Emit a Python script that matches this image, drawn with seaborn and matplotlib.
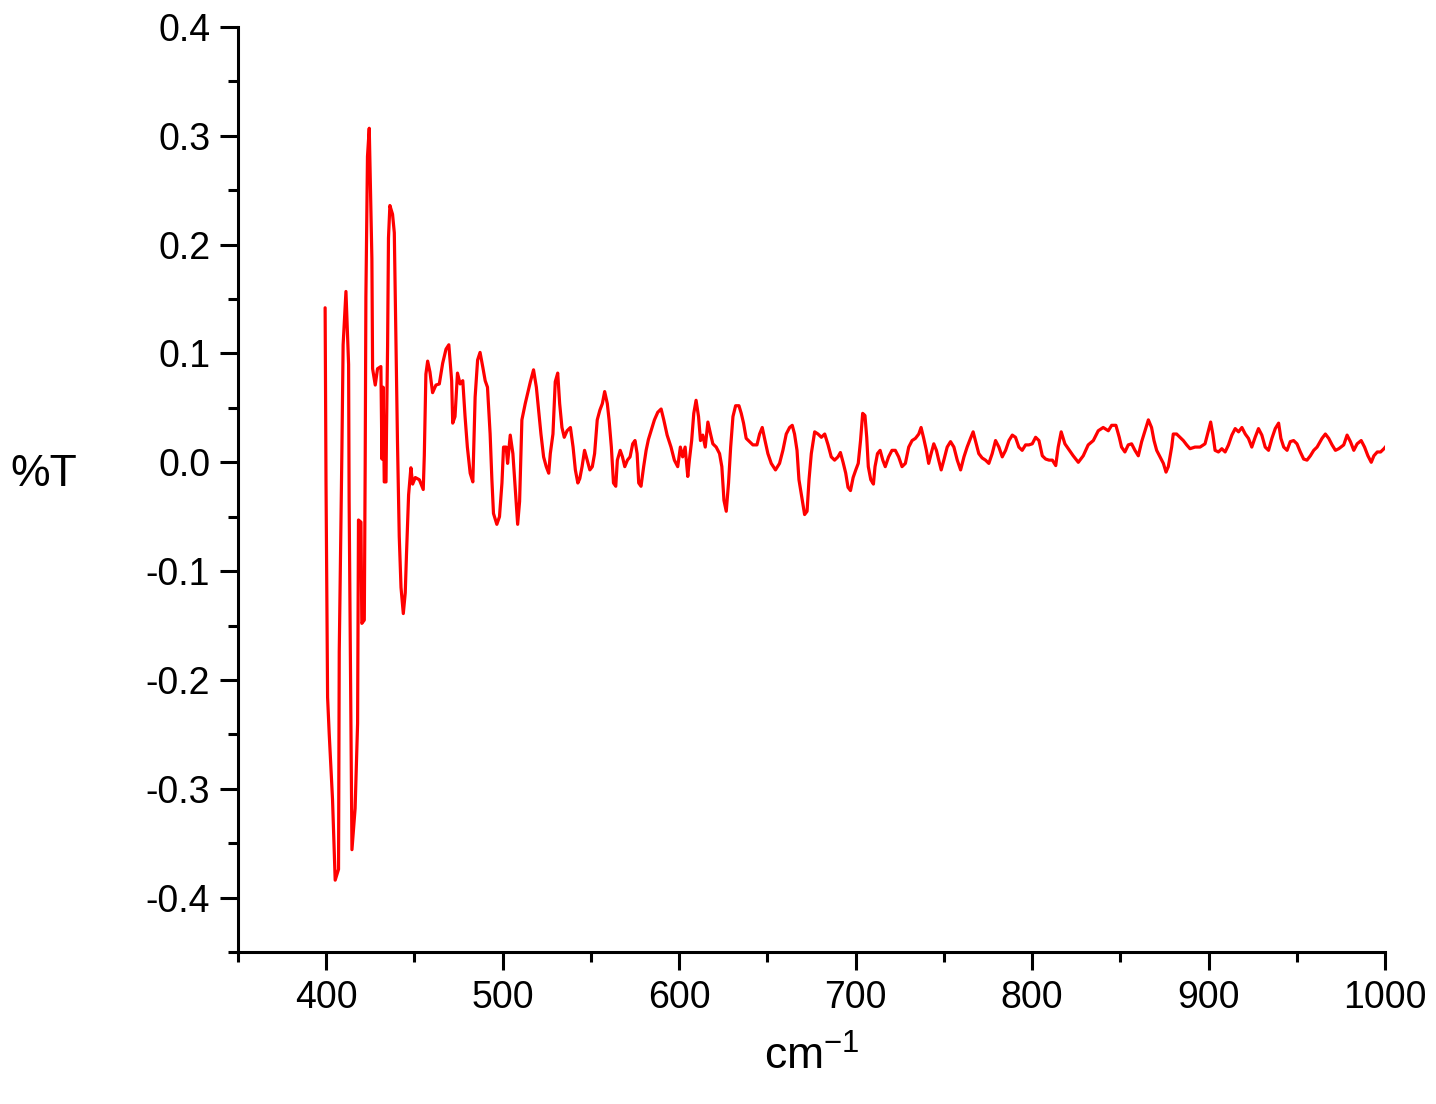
import numpy as np
import pandas as pd
import seaborn as sns
import matplotlib.pyplot as plt
from matplotlib.ticker import MultipleLocator

# values (turning points)
wavenumber = [
    399.4, 399.9, 400.8, 401.7, 403.6, 405.1, 407.0, 407.4, 408.9, 409.6,
    411.2, 412.7, 413.0, 414.0, 414.6, 416.4, 417.8, 418.3, 419.7, 420.2,
    421.6, 422.1, 422.5, 423.4, 424.4, 425.9, 426.3, 427.8, 429.1, 431.0,
    431.6, 432.3, 432.9, 433.9, 434.2, 434.8, 435.3, 436.1, 437.6, 438.6,
    439.5, 440.4, 441.4, 442.4, 443.7, 444.8, 445.5, 446.7, 448.0, 449.0,
    450.5, 452.8, 455.0, 455.6, 456.5, 457.5, 458.8, 460.3, 462.2, 464.1,
    466.0, 467.9, 469.5, 471.1, 471.7, 473.0, 474.4, 475.9, 477.4, 478.7,
    480.0, 481.6, 483.1, 484.4, 485.8, 487.2, 488.8, 490.1, 491.4, 492.9,
    493.9, 494.8, 496.7, 498.2, 499.6, 500.5, 502.0, 502.8, 504.3, 505.8,
    507.1, 508.5, 509.6, 510.9, 512.8, 514.1, 515.7, 517.5, 519.1, 520.4,
    521.7, 523.2, 524.7, 526.1, 527.0, 528.5, 529.8, 531.2, 532.3, 533.6,
    534.9, 536.5, 538.4, 539.9, 541.2, 542.6, 543.7, 545.0, 546.4, 547.9,
    549.4, 550.8, 552.1, 553.6, 555.1, 556.5, 557.8, 559.3, 560.3, 561.6,
    562.8, 564.1, 565.0, 566.6, 567.9, 569.2, 570.7, 572.2, 573.7, 575.0,
    576.2, 577.1, 578.4, 579.9, 581.3, 582.6, 584.1, 586.0, 587.9, 589.8,
    591.3, 593.2, 595.4, 597.3, 599.2, 600.7, 602.0, 603.4, 604.9, 605.8,
    607.1, 608.3, 609.6, 611.0, 612.1, 613.4, 614.8, 616.3, 617.8, 619.1,
    621.0, 622.9, 624.2, 625.4, 626.7, 628.0, 629.2, 630.5, 632.0, 633.9,
    635.2, 636.5, 638.0, 639.9, 641.8, 644.1, 645.6, 647.1, 648.4, 650.3,
    652.2, 654.6, 656.9, 658.8, 660.7, 662.6, 664.1, 665.4, 666.8, 667.9,
    669.2, 671.1, 672.5, 673.6, 674.9, 676.8, 678.7, 680.6, 682.5, 684.4,
    686.2, 688.1, 690.0, 691.4, 692.9, 694.4, 695.7, 697.1, 698.6, 700.1,
    701.5, 702.8, 704.0, 705.3, 706.3, 707.2, 708.6, 710.1, 711.0, 712.4,
    713.9, 715.4, 716.8, 718.7, 720.6, 722.5, 724.4, 726.3, 728.2, 730.1,
    732.0, 733.9, 735.8, 737.1, 738.6, 740.1, 741.4, 742.8, 744.3, 745.8,
    747.1, 748.5, 750.0, 751.9, 753.8, 755.7, 757.6, 759.5, 761.4, 763.2,
    765.1, 766.6, 767.9, 769.8, 771.7, 773.6, 775.5, 777.4, 779.3, 781.2,
    783.1, 785.0, 786.9, 788.8, 790.6, 792.5, 794.4, 796.3, 798.2, 800.1,
    802.0, 803.9, 805.8, 807.7, 809.6, 811.5, 813.4, 814.8, 816.5, 818.6,
    820.5, 823.3, 826.2, 829.0, 831.8, 834.7, 837.5, 840.3, 843.2, 845.1,
    847.5, 849.4, 850.7, 852.6, 854.5, 856.4, 858.3, 860.2, 862.1, 864.0,
    865.9, 867.7, 869.1, 870.6, 872.5, 874.4, 875.9, 877.2, 879.1, 880.0,
    881.9, 883.8, 885.7, 887.6, 889.5, 892.3, 895.2, 898.0, 899.9, 901.2,
    902.4, 903.7, 905.6, 907.5, 909.4, 911.3, 913.2, 915.1, 917.0, 918.9,
    920.8, 922.6, 924.5, 926.4, 928.3, 930.2, 932.1, 934.0, 935.9, 937.8,
    939.7, 941.0, 942.6, 944.5, 946.3, 948.2, 950.1, 952.0, 953.9, 955.8,
    957.7, 959.6, 961.5, 964.3, 966.2, 968.1, 970.0, 971.9, 973.8, 976.6,
    978.5, 980.4, 982.3, 984.2, 986.5, 988.4, 990.3, 992.2, 993.7, 995.6,
    997.5, 999.4, 1001.2,
]
transmittance = [
    0.142, -0.018, -0.216, -0.249, -0.310, -0.384, -0.374, -0.174, 0.010, 0.108,
    0.157, 0.090, -0.035, -0.237, -0.356, -0.318, -0.240, -0.053, -0.055, -0.148,
    -0.145, -0.002, 0.152, 0.281, 0.307, 0.187, 0.086, 0.071, 0.086, 0.088,
    0.003, 0.069, -0.018, -0.018, 0.031, 0.107, 0.206, 0.236, 0.228, 0.211,
    0.114, 0.019, -0.068, -0.115, -0.139, -0.120, -0.085, -0.030, -0.005, -0.020,
    -0.014, -0.016, -0.025, 0.006, 0.081, 0.093, 0.083, 0.064, 0.071, 0.072,
    0.091, 0.104, 0.108, 0.075, 0.036, 0.042, 0.082, 0.072, 0.075, 0.042,
    0.014, -0.010, -0.018, 0.060, 0.094, 0.101, 0.087, 0.075, 0.069, 0.026,
    -0.016, -0.047, -0.057, -0.050, -0.019, 0.014, 0.014, -0.001, 0.025, 0.008,
    -0.023, -0.057, -0.036, 0.039, 0.054, 0.063, 0.074, 0.085, 0.069, 0.048,
    0.026, 0.005, -0.004, -0.010, 0.008, 0.026, 0.074, 0.082, 0.054, 0.032,
    0.023, 0.029, 0.032, 0.014, -0.007, -0.019, -0.015, -0.004, 0.011, 0.002,
    -0.007, -0.004, 0.008, 0.039, 0.048, 0.054, 0.065, 0.054, 0.039, 0.014,
    -0.019, -0.022, 0.002, 0.011, 0.005, -0.004, 0.002, 0.005, 0.017, 0.020,
    0.008, -0.019, -0.022, -0.004, 0.011, 0.021, 0.029, 0.039, 0.046, 0.049,
    0.039, 0.025, 0.014, 0.002, -0.004, 0.014, 0.005, 0.014, -0.013, 0.002,
    0.020, 0.045, 0.057, 0.042, 0.020, 0.025, 0.014, 0.037, 0.026, 0.017,
    0.014, 0.008, -0.004, -0.035, -0.045, -0.019, 0.014, 0.042, 0.052, 0.052,
    0.045, 0.036, 0.022, 0.019, 0.016, 0.016, 0.026, 0.032, 0.022, 0.008,
    -0.001, -0.007, -0.001, 0.011, 0.026, 0.032, 0.034, 0.026, 0.011, -0.016,
    -0.029, -0.048, -0.045, -0.016, 0.008, 0.028, 0.026, 0.023, 0.026, 0.016,
    0.005, 0.002, 0.005, 0.009, 0.000, -0.010, -0.023, -0.026, -0.014, -0.007,
    -0.001, 0.020, 0.045, 0.043, 0.023, -0.004, -0.016, -0.020, -0.004, 0.008,
    0.011, 0.002, -0.004, 0.005, 0.011, 0.011, 0.005, -0.004, -0.001, 0.014,
    0.020, 0.022, 0.026, 0.032, 0.022, 0.011, -0.001, 0.008, 0.017, 0.011,
    0.002, -0.007, 0.002, 0.014, 0.019, 0.014, 0.002, -0.007, 0.005, 0.014,
    0.022, 0.028, 0.020, 0.008, 0.004, 0.002, -0.001, 0.008, 0.020, 0.014,
    0.005, 0.011, 0.020, 0.025, 0.023, 0.014, 0.011, 0.016, 0.016, 0.017,
    0.023, 0.020, 0.006, 0.003, 0.002, 0.002, -0.003, 0.014, 0.028, 0.017,
    0.0125, 0.006, 0.000, 0.006, 0.016, 0.020, 0.029, 0.032, 0.029, 0.034,
    0.034, 0.023, 0.014, 0.0095, 0.016, 0.017, 0.011, 0.006, 0.019, 0.029,
    0.039, 0.032, 0.020, 0.011, 0.005, -0.001, -0.009, -0.004, 0.014, 0.026,
    0.026, 0.023, 0.020, 0.016, 0.0125, 0.014, 0.014, 0.017, 0.029, 0.037,
    0.026, 0.011, 0.0095, 0.0125, 0.0095, 0.016, 0.025, 0.031, 0.028, 0.032,
    0.026, 0.022, 0.014, 0.023, 0.031, 0.025, 0.014, 0.011, 0.022, 0.031,
    0.036, 0.022, 0.014, 0.011, 0.019, 0.020, 0.017, 0.0095, 0.003, 0.002,
    0.006, 0.011, 0.014, 0.022, 0.026, 0.022, 0.016, 0.011, 0.0125, 0.016,
    0.025, 0.019, 0.011, 0.017, 0.020, 0.014, 0.006, 0.000, 0.006, 0.0095,
    0.0095, 0.0125, 0.016,
]
y_ticks = [-0.4, -0.3, -0.2, -0.1, 0.0, 0.1, 0.2, 0.3, 0.4]
y_ticklabels = ['-0.4', '-0.3', '-0.2', '-0.1', '0.0', '0.1', '0.2', '0.3', '0.4']

df = pd.DataFrame({'cm-1': wavenumber, '%T': transmittance})

sns.set_style('ticks')
plt.rcParams['font.family'] = ['Liberation Sans', 'DejaVu Sans']
plt.rcParams['text.color'] = 'black'
plt.rcParams['axes.labelcolor'] = 'black'
plt.rcParams['xtick.color'] = 'black'
plt.rcParams['ytick.color'] = 'black'

fig = plt.figure(figsize=(14.36, 11.04), dpi=100)
ax = fig.add_axes([0.1657, 0.1377, 0.7988, 0.8378])

sns.lineplot(data=df, x='cm-1', y='%T', color='red', linewidth=2.3, ax=ax)

ax.set_xlim(350, 1000)
ax.set_ylim(-0.45, 0.4)
ax.xaxis.set_major_locator(MultipleLocator(100))
ax.xaxis.set_minor_locator(MultipleLocator(50))
ax.set_yticks(y_ticks)
ax.set_yticklabels(y_ticklabels)
ax.yaxis.set_minor_locator(MultipleLocator(0.05))

sns.despine(ax=ax)
for side in ['left', 'bottom']:
    ax.spines[side].set_linewidth(2.2)
    ax.spines[side].set_color('black')
ax.tick_params(which='major', direction='out', length=13, width=2.2,
               labelsize=27, colors='black', pad=7)
ax.tick_params(which='minor', direction='out', length=7, width=2.2, color='black')

ax.set_xlabel(r'cm$^{\mathregular{-1}}$', fontsize=32, labelpad=14)
ax.set_ylabel('%T', fontsize=32, rotation=0)
ax.yaxis.set_label_coords(-0.169, 0.516)
ax.yaxis.label.set_verticalalignment('center')
ax.yaxis.label.set_horizontalalignment('center')

fig.savefig('out.png', dpi=100)
